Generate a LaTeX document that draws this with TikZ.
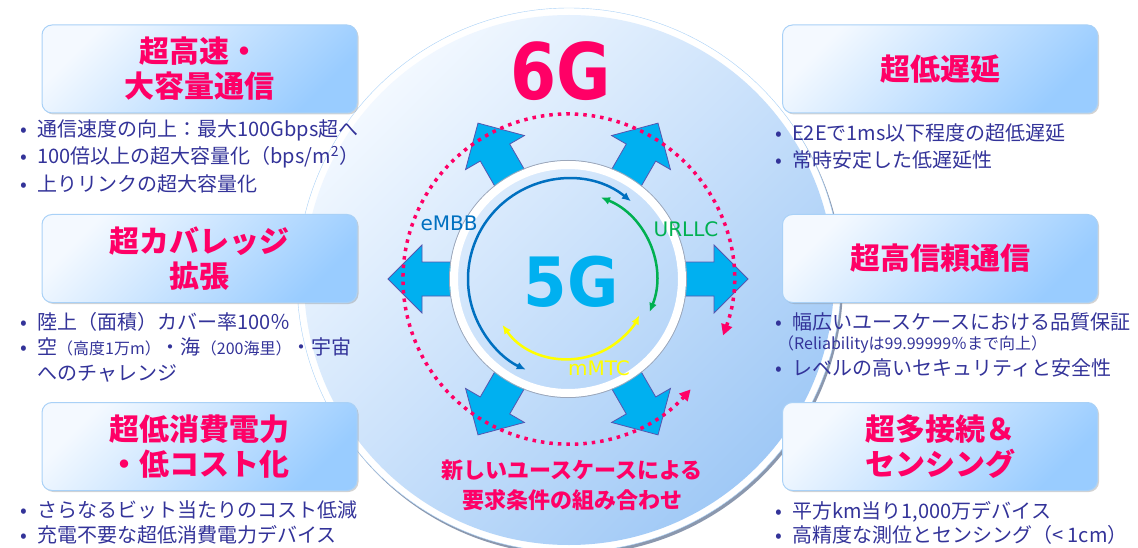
\documentclass[tikz,border=0pt]{standalone}
\usepackage{fontspec}
\setmainfont{Noto Sans CJK JP}
\newfontfamily\verdfont{DejaVu Sans}
\usetikzlibrary{arrows.meta,shadows}

\definecolor{pinkred}{HTML}{FF0066}
\definecolor{navytext}{HTML}{333399}
\definecolor{sgblue}{HTML}{00B0F0}
\definecolor{arrowedge}{HTML}{5656B0}
\definecolor{arcblue}{HTML}{0070C0}
\definecolor{arcgreen}{HTML}{00B050}
\definecolor{arcyellow}{HTML}{FFFF00}
\definecolor{boxlight}{HTML}{F4F9FF}
\definecolor{boxdark}{HTML}{99CCFF}
\definecolor{boxedge}{HTML}{A9D1F7}
\definecolor{disclight}{HTML}{F2F8FF}
\definecolor{discdark}{HTML}{A0C9F6}
\definecolor{discshadow}{HTML}{5A6C8C}

\newcommand{\bul}{\makebox[17pt][l]{•}}
\newcommand{\notefont}{\fontsize{16}{16}\selectfont}

\tikzset{
  titlebox/.style={draw=boxedge, line width=1pt, rounded corners=10pt,
    top color=boxlight, bottom color=boxdark, shading angle=45,
    minimum width=315pt, minimum height=88pt, align=center, text=pinkred,
    font=\fontsize{30}{35}\selectfont\bfseries,
    drop shadow={opacity=0.35, shadow xshift=1.5pt, shadow yshift=-1.5pt}},
  item/.style={anchor=west, inner sep=0pt, text=navytext,
    font=\fontsize{20}{24}\selectfont},
  blockarrow/.style={fill=sgblue, draw=arrowedge, line width=0.8pt},
  arcline/.style={line width=2.5pt, {Latex[length=9pt,width=8pt]}-{Latex[length=9pt,width=8pt]}},
  dotline/.style={pinkred, line width=3.5pt, dash pattern=on 3.5pt off 5pt,
    {Triangle[length=11pt,width=11pt]}-{Triangle[length=11pt,width=11pt]}},
  arclabel/.style={font=\fontsize{20}{20}\verdfont, inner sep=0pt},
}

\begin{document}
\begin{tikzpicture}[x=1pt, y=1pt]
\useasboundingbox (0,0) rectangle (1138,-548);

% big disc
\coordinate (bigc) at (569,-280);
\fill[discshadow, opacity=0.7] ([shift={(2,-3)}]bigc) circle (272);
\filldraw[fill=white, draw=boxedge] (bigc) circle (272);
\shade[top color=disclight, bottom color=discdark, shading angle=45] (bigc) circle (265);

% six block arrows
\coordinate (ctr) at (568,-279);
\foreach \ang in {0,60,120,180,240,300}
  \draw[blockarrow, shift={(ctr)}, rotate=\ang]
    (116,-17) -- (146,-17) -- (146,-34) -- (180,0) -- (146,34) -- (146,17) -- (116,17) -- cycle;

% dotted 6G circle
\draw[dotline] ([shift={(-20:165)}]ctr) arc[start angle=-20, end angle=318, radius=165];

% 5G ring
\draw[discshadow!60, line width=1pt] (ctr) circle (118.5);
\draw[white, line width=8pt] (ctr) circle (114);

\draw[arcline, arcblue] ([shift={(51:100)}]ctr) arc[start angle=51, end angle=245, radius=100];
\draw[arcline, arcgreen] ([shift={(68:88)}]ctr) arc[start angle=68, end angle=-22, radius=88];
\draw[arcline, arcyellow] ([shift={(215:80)}]ctr) arc[start angle=215, end angle=333, radius=80];

\node[arclabel, text=arcblue] (embb) at (449,-223) {eMBB};
\node[arclabel, text=arcgreen] (urllc) at (686,-229) {URLLC};
\node[arclabel, text=arcyellow] (mmtc) at (599,-368) {mMTC};

\node[text=sgblue, font=\fontsize{68}{68}\verdfont\bfseries] (fiveg) at (571,-282) {\scalebox{0.92}[1]{5G}};
\node[text=pinkred, font=\fontsize{78}{78}\verdfont\bfseries] (sixg) at (561,-71) {\scalebox{0.85}[1]{6G}};

\node[text=pinkred, align=center, font=\fontsize{22}{30}\selectfont\bfseries] (newuse) at (572,-485)
  {新しいユースケースによる\\要求条件の組み合わせ};

% requirement boxes
\node[titlebox] (speed) at (199.5,-69) {超高速・\\大容量通信};
\node[titlebox] (coverage) at (199.5,-258.5) {超カバレッジ\\拡張};
\node[titlebox] (lowpower) at (199.5,-446.5) {超低消費電力\\・低コスト化};
\node[titlebox] (lowlat) at (940,-69) {超低遅延};
\node[titlebox] (reliab) at (940,-258.5) {超高信頼通信};
\node[titlebox] (massconn) at (940,-446.5) {超多接続＆\\センシング};

% bullet lists
\foreach \t [count=\i] in {通信速度の向上：最大100Gbps超へ, 100倍以上の超大容量化（bps/m\textsuperscript{2}）, 上りリンクの超大容量化}
  \node[item] (spd-\i) at (20,-103-27*\i) {\bul\t};

\node[item] (cov-1) at (20,-322) {\bul 陸上（面積）カバー率100％};
\node[item] (cov-2) at (20,-347) {\bul 空{\notefont（高度1万m）}・海{\notefont（200海里）}・宇宙};
\node[item] (cov-3) at (37,-373) {へのチャレンジ};

\foreach \t [count=\i] in {さらなるビット当たりのコスト低減, 充電不要な超低消費電力デバイス}
  \node[item] (pow-\i) at (20,-485-25*\i) {\bul\t};

\foreach \t [count=\i] in {E2Eで1ms以下程度の超低遅延, 常時安定した低遅延性}
  \node[item] (lat-\i) at (775,-106-27*\i) {\bul\t};

\node[item] (rel-1) at (775,-322) {\bul 幅広いユースケースにおける品質保証};
\node[item, font=\notefont] (rel-2) at (778,-345) {（Reliabilityは99.99999％まで向上）};
\node[item] (rel-3) at (775,-368) {\bul レベルの高いセキュリティと安全性};

\foreach \t [count=\i] in {{平方km当り1,000万デバイス}, 高精度な測位とセンシング（< 1cm）}
  \node[item] (con-\i) at (775,-489-23*\i) {\bul\t};
\end{tikzpicture}
\end{document}
